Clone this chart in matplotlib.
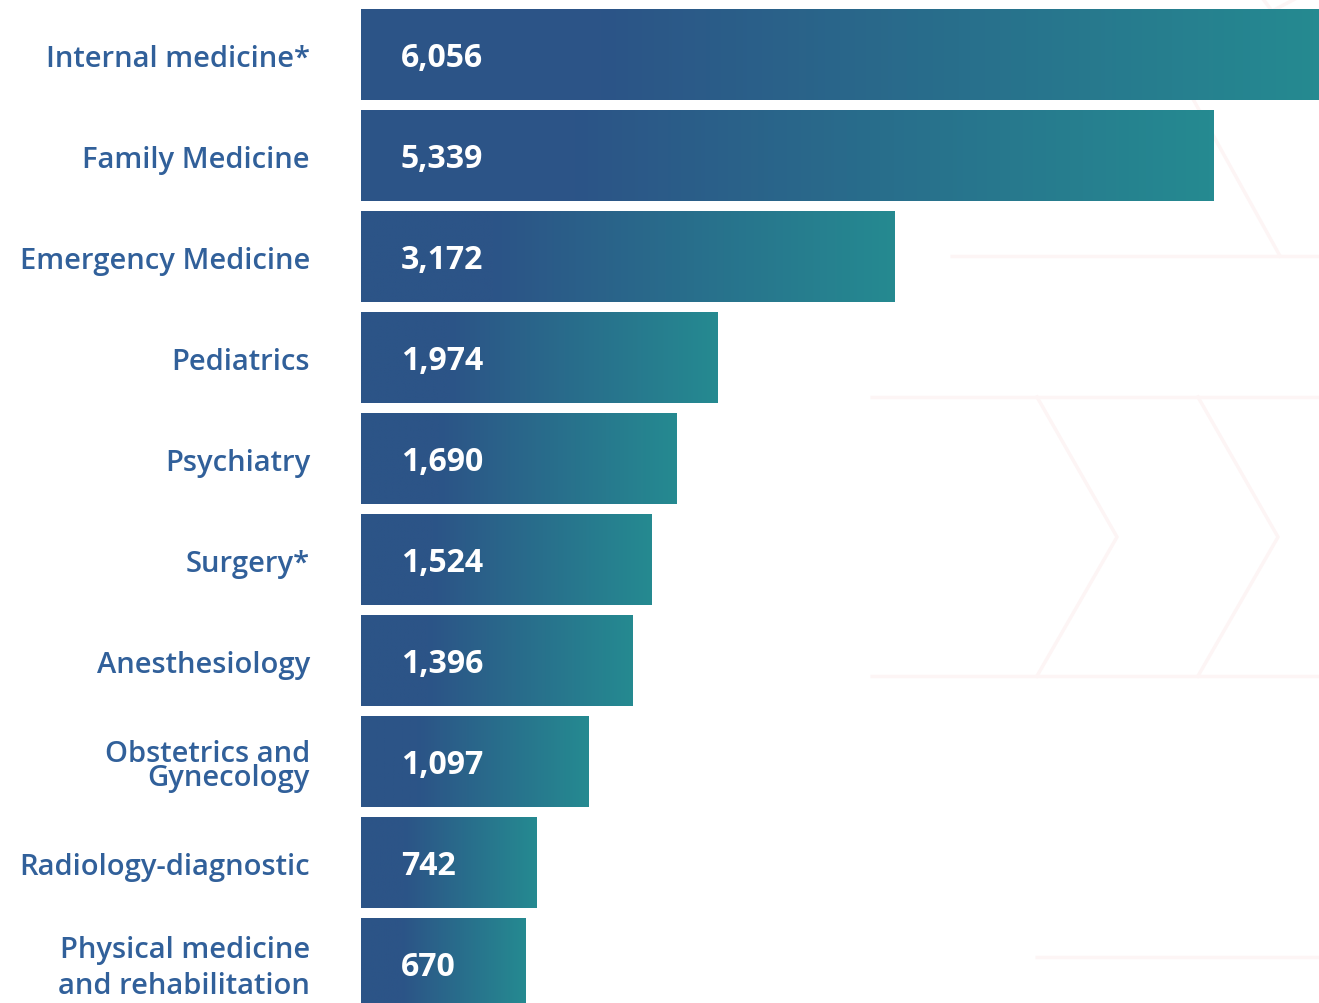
import matplotlib
matplotlib.use("Agg")
import matplotlib.pyplot as plt
import numpy as np
from matplotlib.colors import LinearSegmentedColormap

# data
specialties = ["Internal medicine*", "Family Medicine", "Emergency Medicine",
               "Pediatrics", "Psychiatry", "Surgery*", "Anesthesiology",
               "Obstetrics and\nGynecology", "Radiology-diagnostic",
               "Physical medicine\nand rehabilitation"]
counts = [6056, 5339, 3172, 1974, 1690, 1524, 1396, 1097, 742, 670]

DARK = "#2C5487"
TEAL = "#258A91"
LABEL_COLOR = "#31609A"
FLOOR = 450  # bars start a bit below zero, like the original design

plt.rcParams["font.family"] = ["Open Sans", "DejaVu Sans"]

fig = plt.figure(figsize=(13.19, 10.04), dpi=100)
fig.patch.set_facecolor("white")

# faint decorative chevrons in the background
bg = fig.add_axes([0, 0, 1, 1], zorder=0)
bg.set_xlim(0, 1319)
bg.set_ylim(1004, 0)
bg.axis("off")
deco = "#fdf5f5"
for yy, x0 in [(257, 950), (398, 870), (677, 870), (958, 1035)]:
    bg.plot([x0, 1319], [yy, yy], color=deco, lw=2.5, solid_capstyle="butt")
for cx in [1037, 1198]:
    bg.plot([cx, cx + 80, cx], [398, 538, 677], color=deco, lw=2.5)
bg.plot([1193, 1280], [100, 257], color=deco, lw=2.5)
bg.plot([1263, 1272, 1295], [0, 12, 0], color=deco, lw=2.5)

ax = fig.add_axes([361 / 1319, -11 / 1004, 958 / 1319, 1010 / 1004], zorder=1)
ax.patch.set_alpha(0)
n = len(counts)
ax.axis("off")

cmap = LinearSegmentedColormap.from_list("bar", [(0, DARK), (0.25, DARK), (1, TEAL)])
grad = np.linspace(0, 1, 256).reshape(1, -1)
h = 0.9
span = counts[0] + FLOOR
for i, (name, v) in enumerate(zip(specialties, counts)):
    ax.imshow(grad, cmap=cmap, aspect="auto", interpolation="bilinear",
              extent=[-FLOOR, v, i + h / 2, i - h / 2], zorder=2)
    ax.text(-FLOOR + 40 / 958 * span, i + 0.03, f"{v:,}",
            color="white", fontsize=23, fontweight="bold", va="center", ha="left", zorder=3)
    ls = 0.8 if name.startswith("Obstetrics") else 1.3
    ax.text(-FLOOR - 51 / 958 * span, i + 0.04, name,
            color=LABEL_COLOR, fontsize=21, fontweight="semibold", va="center", ha="right",
            linespacing=ls, clip_on=False)

ax.set_xlim(-FLOOR, counts[0])
ax.set_ylim(n - 0.5, -0.5)

fig.savefig("out.png", dpi=100, facecolor="white")
